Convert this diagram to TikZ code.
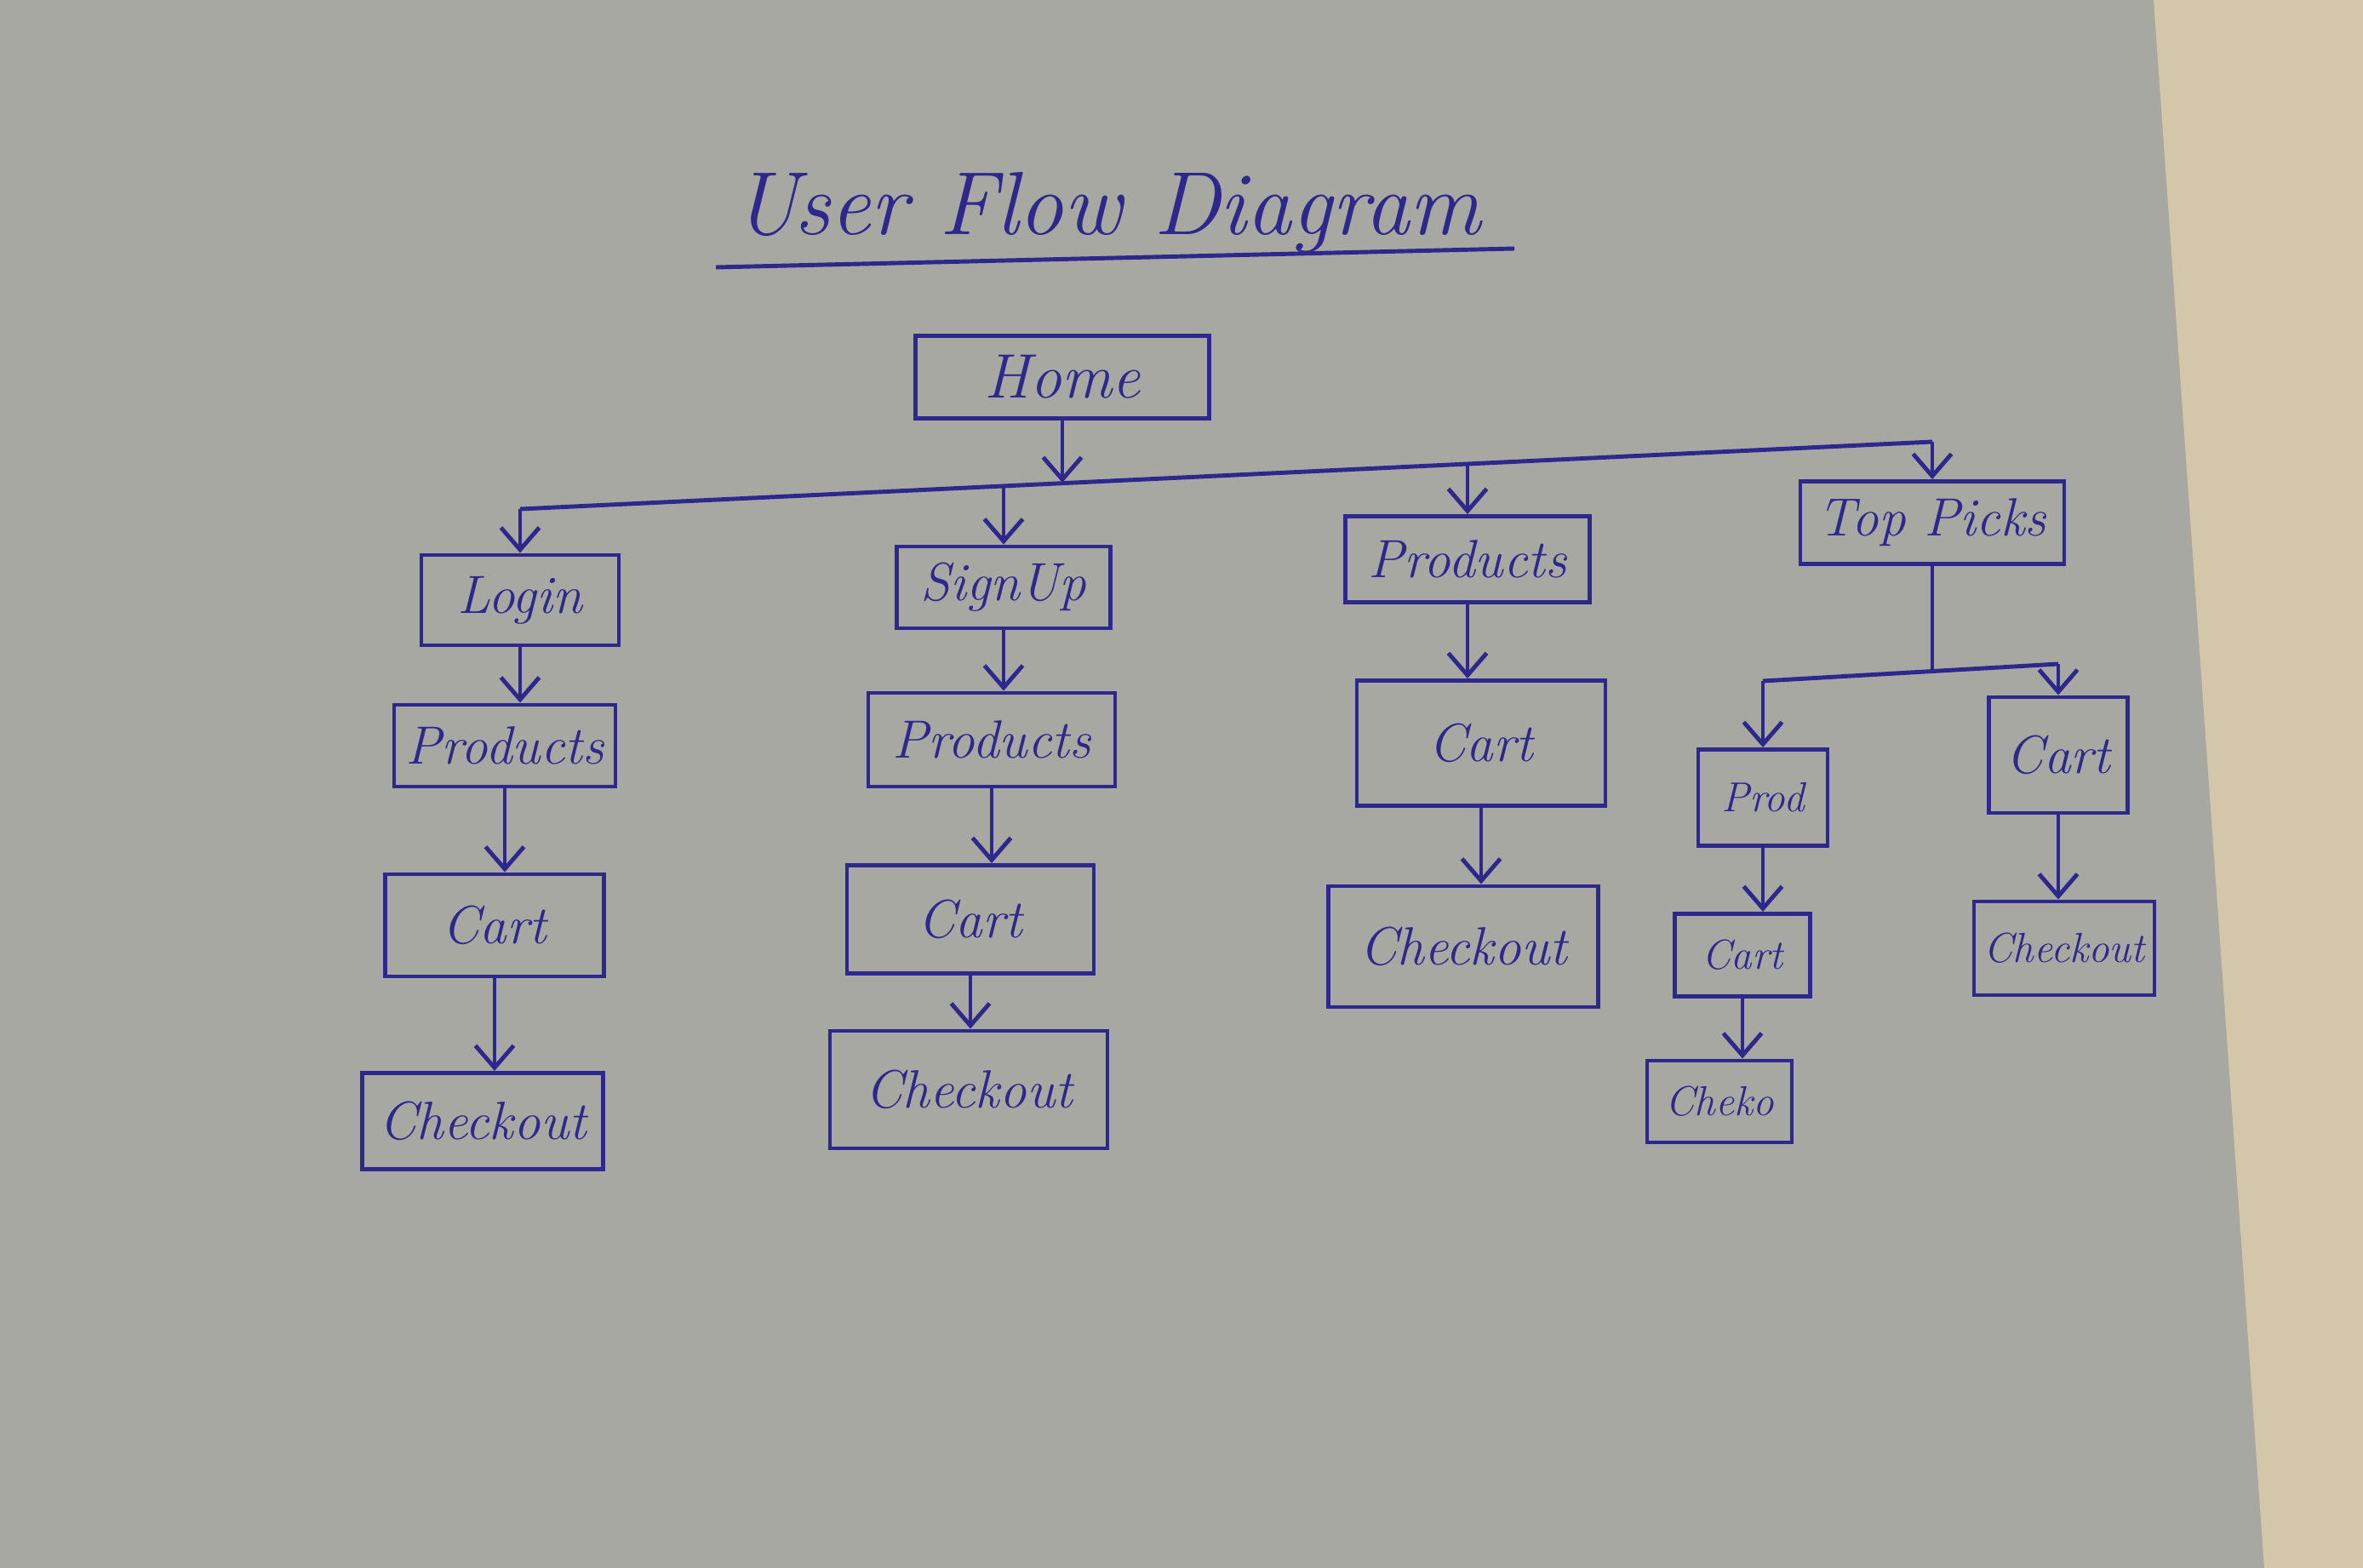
\documentclass[tikz,border=0pt]{standalone}
\usetikzlibrary{arrows.meta}
\definecolor{paper}{RGB}{168,168,163}
\definecolor{desk}{RGB}{212,198,168}
\definecolor{ink}{RGB}{46,40,140}
\tikzset{
  ink/.style={draw=ink, line width=1.4pt},
  box/.style={ink, rectangle, text=ink, inner sep=2pt, font=\itshape\fontsize{18}{20}\selectfont},
  bigbox/.style={box, font=\itshape\fontsize{21}{24}\selectfont},
  smallbox/.style={box, font=\itshape\fontsize{14}{16}\selectfont},
  flow/.style={ink, -{Straight Barb[length=2.6mm,width=4.5mm]}},
  wire/.style={ink}
}
\begin{document}
\begin{tikzpicture}
\useasboundingbox (0,0) rectangle (27.76,-18.42);
\fill[paper] (0,0) rectangle (27.76,-18.42);
\fill[desk] (25.3,0) -- (27.76,0) -- (27.76,-18.42) -- (26.6,-18.42) -- cycle;

% title
\node[text=ink, font=\itshape\fontsize{30}{34}\selectfont] (title) at (13.01,-2.5) {User Flow Diagram};
\draw[wire] (8.41,-3.14) -- (17.79,-2.92);

% boxes
\node[bigbox, minimum width=3.45cm, minimum height=0.97cm] (home) at (12.48,-4.43) {Home};

\node[box, minimum width=2.32cm, minimum height=1.06cm] (login) at (6.11,-7.05) {Login};
\node[box, minimum width=2.60cm, minimum height=0.96cm] (prod1) at (5.93,-8.76) {Products};
\node[box, minimum width=2.57cm, minimum height=1.20cm] (cart1) at (5.81,-10.87) {Cart};
\node[box, minimum width=2.83cm, minimum height=1.13cm] (check1) at (5.67,-13.17) {Checkout};

\node[box, minimum width=2.51cm, minimum height=0.96cm] (signup) at (11.79,-6.90) {SignUp};
\node[box, minimum width=2.90cm, minimum height=1.10cm] (prod2) at (11.65,-8.69) {Products};
\node[box, minimum width=2.90cm, minimum height=1.27cm] (cart2) at (11.40,-10.80) {Cart};
\node[box, minimum width=3.26cm, minimum height=1.38cm] (check2) at (11.38,-12.80) {Checkout};

\node[box, minimum width=2.87cm, minimum height=1.01cm] (prod3) at (17.24,-6.57) {Products};
\node[box, minimum width=2.92cm, minimum height=1.47cm] (cart3) at (17.40,-8.73) {Cart};
\node[box, minimum width=3.17cm, minimum height=1.42cm] (check3) at (17.19,-11.12) {Checkout};

\node[box, minimum width=3.10cm, minimum height=0.97cm] (top) at (22.70,-6.14) {Top Picks};
\node[smallbox, minimum width=1.52cm, minimum height=1.13cm] (prod4) at (20.71,-9.37) {Prod};
\node[box, minimum width=1.63cm, minimum height=1.36cm] (cart4) at (24.18,-8.87) {Cart};
\node[smallbox, minimum width=1.59cm, minimum height=0.97cm] (cart5) at (20.47,-11.22) {Cart};
\node[smallbox, minimum width=2.12cm, minimum height=1.10cm] (check4) at (24.25,-11.14) {Checkout};
\node[smallbox, minimum width=1.70cm, minimum height=0.96cm] (cheko) at (20.20,-12.94) {Cheko};

% main bus
\coordinate (bLogin) at (6.11,-5.98);
\coordinate (bSign) at (11.79,-5.71);
\coordinate (bHome) at (12.48,-5.67);
\coordinate (bProd) at (17.24,-5.45);
\coordinate (bTop) at (22.70,-5.19);
\draw[wire] (bLogin) -- (bTop);
\draw[flow] (home.south) -- (bHome);
\draw[flow] (bLogin) -- (login.north);
\draw[flow] (bSign) -- (signup.north);
\draw[flow] (bProd) -- (prod3.north);
\draw[flow] (bTop) -- (top.north);

% top picks bus
\coordinate (tJoin) at (22.70,-7.89);
\coordinate (tL) at (20.71,-8.00);
\coordinate (tR) at (24.18,-7.80);
\draw[wire] (top.south) -- (tJoin);
\draw[wire] (tL) -- (tR);
\draw[flow] (tL) -- (prod4.north);
\draw[flow] (tR) -- (cart4.north);

% column chains
\draw[flow] (login.south) -- (login.south |- prod1.north);
\draw[flow] (prod1.south) -- (prod1.south |- cart1.north);
\draw[flow] (cart1.south) -- (cart1.south |- check1.north);
\draw[flow] (signup.south) -- (signup.south |- prod2.north);
\draw[flow] (prod2.south) -- (prod2.south |- cart2.north);
\draw[flow] (cart2.south) -- (cart2.south |- check2.north);
\draw[flow] (prod3.south) -- (prod3.south |- cart3.north);
\draw[flow] (cart3.south) -- (cart3.south |- check3.north);
\draw[flow] (prod4.south) -- (prod4.south |- cart5.north);
\draw[flow] (cart5.south) -- (cart5.south |- cheko.north);
\draw[flow] (cart4.south) -- (cart4.south |- check4.north);
\end{tikzpicture}
\end{document}
